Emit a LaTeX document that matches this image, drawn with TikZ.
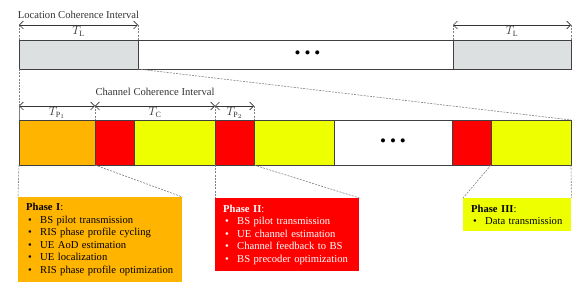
\documentclass[tikz,border=0pt]{standalone}
\usepackage{fontspec}
\setmainfont{Liberation Serif}
\usetikzlibrary{arrows.meta,positioning}
\usepackage{xcolor}
\definecolor{ltgray}{RGB}{220,224,224}
\definecolor{phorange}{RGB}{255,180,0}
\definecolor{phred}{RGB}{255,0,0}
\definecolor{phyellow}{RGB}{238,255,0}
\newcommand{\itm}{\hspace*{2pt}\makebox[12pt][l]{\textbullet}}
\newcommand{\dotsrow}{\textbullet\hspace{4pt}\textbullet\hspace{4pt}\textbullet}

\begin{document}
\begin{tikzpicture}[
  x=1pt,y=-1pt,
  node distance=0pt,
  seg/.style={draw=black!75,line width=0.9pt,minimum height=45pt,inner sep=0pt,outer sep=0pt},
  topbox/.style={draw=black!75,line width=0.9pt,minimum height=29pt,inner sep=0pt,outer sep=0pt},
  dim/.style={{Straight Barb[length=4pt,width=8pt]}-{Straight Barb[length=4pt,width=8pt]},black!80,line width=0.6pt},
  guide/.style={dash pattern=on 2pt off 1.2pt,gray,line width=0.6pt},
  phase/.style={anchor=north west,align=left,inner xsep=8pt,inner ysep=5pt,font=\fontsize{10.6}{12.5}\selectfont},
  lbl/.style={font=\fontsize{10.6}{12}\selectfont},
  tlbl/.style={font=\fontsize{12}{12}\selectfont,inner sep=1pt},
  dotsfont/.style={font=\fontsize{17}{17}\selectfont,inner sep=0pt}
]
\useasboundingbox (0,0) rectangle (581,291);
% location coherence row
\node[topbox,fill=ltgray,minimum width=119pt,anchor=north west] (L1) at (19,40) {};
\node[topbox,fill=white,minimum width=315pt,right=of L1] (Lmid) {};
\node[topbox,fill=ltgray,minimum width=118pt,right=of Lmid] (L2) {};
\node[dotsfont,xshift=12pt] (dotsA) at (Lmid) {\dotsrow};

% channel coherence row
\node[seg,fill=phorange,minimum width=76pt,anchor=north west] (s1) at (19,120) {};
\node[seg,fill=phred,minimum width=39pt,right=of s1] (s2) {};
\node[seg,fill=phyellow,minimum width=81pt,right=of s2] (s3) {};
\node[seg,fill=phred,minimum width=39pt,right=of s3] (s4) {};
\node[seg,fill=phyellow,minimum width=80pt,right=of s4] (s5) {};
\node[seg,fill=white,minimum width=118pt,right=of s5] (s6) {};
\node[seg,fill=phred,minimum width=39pt,right=of s6] (s7) {};
\node[seg,fill=phyellow,minimum width=80pt,right=of s7] (s8) {};
\node[dotsfont] (dotsB) at (s6) {\dotsrow};

% interval arrows
\coordinate (a1) at ([yshift=15pt]L1.north west);
\coordinate (a2) at ([yshift=15pt]L1.north east);
\coordinate (a3) at ([yshift=15pt]L2.north west);
\coordinate (a4) at ([yshift=15pt]L2.north east);
\coordinate (b1) at ([yshift=14pt]s1.north west);
\coordinate (b2) at ([yshift=14pt]s1.north east);
\coordinate (b3) at ([yshift=14pt]s3.north east);
\coordinate (b4) at ([yshift=14pt]s4.north east);

\draw[guide] (a1) -- (L1.north west);
\draw[guide] (a2) -- (L1.north east);
\draw[guide] (a3) -- (L2.north west);
\draw[guide] (a4) -- (L2.north east);
\draw[guide] (b1) -- (s1.north west);
\draw[guide] (b2) -- (s1.north east);
\draw[guide] (b3) -- (s4.north west);
\draw[guide] (b4) -- (s4.north east);

\draw[dim] (a1) -- (a2) node[midway,below,tlbl] (tl1) {$T_{\mathrm{L}}$}
  node[midway,above=3pt,lbl] (loc) {Location Coherence Interval};
\draw[dim] (a3) -- (a4) node[midway,below,tlbl] (tl2) {$T_{\mathrm{L}}$};
\draw[dim] (b1) -- (b2) node[midway,below,tlbl] (tp1) {$T_{\mathrm{P}_1}$};
\draw[dim] (b2) -- (b3) node[midway,below,tlbl] (tc) {$T_{\mathrm{C}}$}
  node[midway,above=7pt,lbl] (chan) {Channel Coherence Interval};
\draw[dim] (b3) -- (b4) node[midway,below,tlbl] (tp2) {$T_{\mathrm{P}_2}$};

% zoom lines between rows
\draw[guide] (L1.south west) -- (s1.north west);
\draw[guide] (L1.south east) -- (s8.north east);

% phase boxes
\node[phase,fill=phorange,text width=148pt,minimum height=85pt] (ph1) at (18,197) {%
\textbf{Phase I}:\\
\itm BS pilot transmission\\
\itm RIS phase profile cycling\\
\itm UE AoD estimation\\
\itm UE localization\\
\itm RIS phase profile optimization};
\node[phase,fill=phred,text=white,text width=128pt,minimum height=73pt] (ph2) at (215,198) {%
\textbf{Phase II}:\\
\itm BS pilot transmission\\
\itm UE channel estimation\\
\itm Channel feedback to BS\\
\itm BS precoder optimization};
\node[phase,fill=phyellow,text width=92pt,minimum height=33pt] (ph3) at (463,198) {%
\textbf{Phase III}:\\
\itm Data transmission};

\draw[guide] (s1.south west) -- (ph1.north west);
\draw[guide] (s1.south east) -- (ph1.north east);
\draw[guide] (s4.south west) -- (ph2.north west);
\draw[guide] (s4.south east) -- (ph2.north east);
\draw[guide] (s8.south west) -- (ph3.north west);
\draw[guide] (s8.south east) -- (ph3.north east);
\end{tikzpicture}
\end{document}
